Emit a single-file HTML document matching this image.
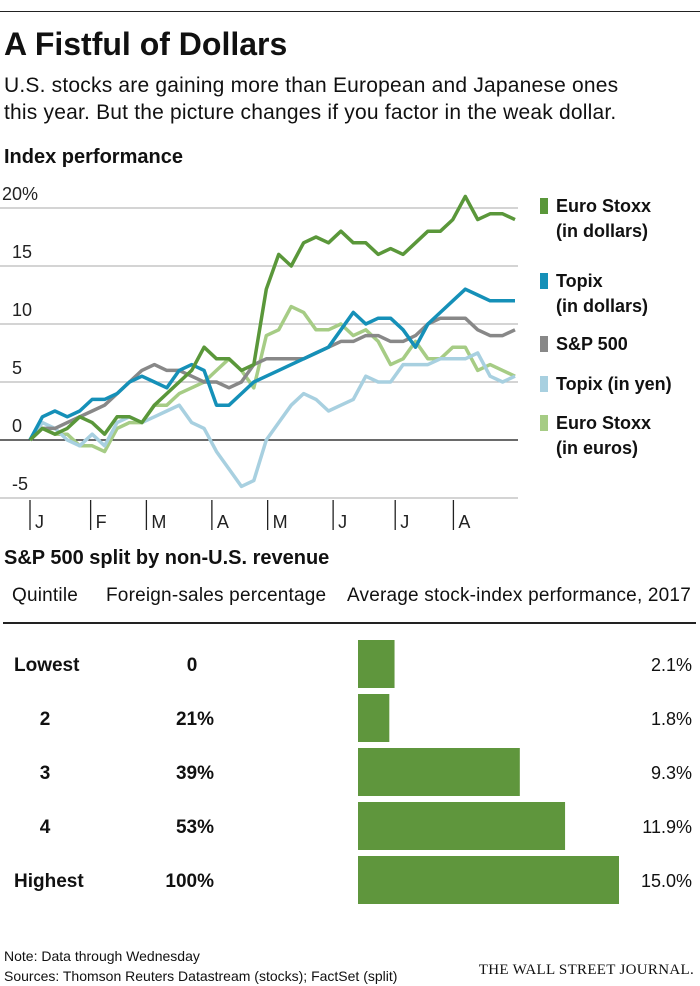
<!DOCTYPE html>
<html><head><meta charset="utf-8">
<style>
body{margin:0;background:#fff;}
#root{position:relative;width:700px;height:986px;overflow:hidden;font-family:"Liberation Sans Narrow","Liberation Sans",sans-serif;color:#111;}
.t{position:absolute;white-space:nowrap;}
</style></head><body>
<div id="root">
<div style="position:absolute;left:0;top:11px;width:700px;height:1px;background:#222"></div>
<div class="t" style="left:4px;top:26px;font-size:32px;font-weight:bold;font-family:'Liberation Sans',sans-serif;letter-spacing:0px">A Fistful of Dollars</div>
<div class="t" style="left:4px;top:72px;font-size:21px;line-height:27px;letter-spacing:0.2px">U.S. stocks are gaining more than European and Japanese ones<br>this year. But the picture changes if you factor in the weak dollar.</div>
<div class="t" style="left:4px;top:146px;font-size:20px;font-weight:bold">Index performance</div>
<svg id="lc" width="700" height="540" style="position:absolute;left:0;top:0"></svg>
<div class="t" style="left:4px;top:547px;font-size:20px;font-weight:bold">S&amp;P 500 split by non-U.S. revenue</div>
<div class="t" style="left:12px;top:585px;font-size:19px;letter-spacing:0.2px">Quintile</div>
<div class="t" style="left:106px;top:585px;font-size:19px;letter-spacing:0.2px">Foreign-sales percentage</div>
<div class="t" style="left:347px;top:585px;font-size:19px;letter-spacing:0.2px">Average stock-index performance, 2017</div>
<div style="position:absolute;left:3px;top:622px;width:693px;height:2px;background:#222"></div>
<svg id="bc" width="700" height="330" style="position:absolute;left:0;top:620px"></svg>
<div class="t" style="left:4px;top:948px;font-size:14px">Note: Data through Wednesday</div>
<div class="t" style="left:4px;top:968px;font-size:14px">Sources: Thomson Reuters Datastream (stocks); FactSet (split)</div>
<div class="t" style="right:6px;top:962px;font-size:15px;font-family:'Liberation Serif',serif;letter-spacing:0.3px">THE WALL STREET JOURNAL.</div>
</div>
<script>
const yTicks=[20,15,10,5,0,-5];
const yTickLabels=["20%","15","10","5","0","-5"];
const months=["J","F","M","A","M","J","J","A"];
const monthPos=[0,0.125,0.24,0.375,0.49,0.625,0.753,0.873];
const seriesNames=["Euro Stoxx (in euros)","Topix (in yen)","S&P 500","Topix (in dollars)","Euro Stoxx (in dollars)"];
const seriesColors=["#a6cc85","#a8d0e0","#888888","#1590b8","#5a973a"];
const euroEur=[0,1,0.5,0.5,-0.5,-0.5,-1,1,1.5,1.5,3,3,4,4.5,5,6,7,6,4.5,9,9.5,11.5,11,9.5,9.5,10,9,9.5,8.5,6.5,7,8.5,7,7,8,8,6,6.5,6,5.5];
const topixYen=[0,1.5,1,0,-0.5,0.5,-0.5,1.5,2,1.5,2,2.5,3,1.5,1,-1,-2.5,-4,-3.5,0,1.5,3,4,3.5,2.5,3,3.5,5.5,5,5,6.5,6.5,6.5,7,7,7,7.5,5.5,5,5.5];
const sp500=[0,1,1,1.5,2,2.5,3,4,5,6,6.5,6,6,5.5,5,5,4.5,5,6.5,7,7,7,7,7.5,8,8.5,8.5,9,9,8.5,8.5,9,10,10.5,10.5,10.5,9.5,9,9,9.5];
const topixUsd=[0,2,2.5,2,2.5,3.5,3.5,4,5,5.5,5,4.5,6,6.5,6,3,3,4,5,5.5,6,6.5,7,7.5,8,9.5,11,10,10.5,10.5,9.5,8,10,11,12,13,12.5,12,12,12];
const euroUsd=[0,1,0.5,1,2,1.5,0.5,2,2,1.5,3,4,5,6,8,7,7,6,6.5,13,16,15,17,17.5,17,18,17,17,16,16.5,16,17,18,18,19,21,19,19.5,19.5,19];
const allSeries=[euroEur,topixYen,sp500,topixUsd,euroUsd];

const NS="http://www.w3.org/2000/svg";
const lc=document.getElementById('lc');
const X0=30,X1=515,Y0=440,PU=11.6;
const FF='Liberation Sans Narrow, Liberation Sans, sans-serif';
const y=v=>Y0-v*PU;
const xi=(i,n)=>X0+(X1-X0)*i/(n-1);
function mk(tag,attrs,parent){const e=document.createElementNS(NS,tag);for(const k in attrs)e.setAttribute(k,attrs[k]);parent.appendChild(e);return e;}
yTicks.forEach((t,i)=>{
  const g=mk('line',{x1:0,x2:X1+3,y1:y(t),y2:y(t),stroke:t===0?'#111':'#bbb','stroke-width':t===0?1.3:1.2},lc);
  
  
  const tx=mk('text',{x:t===20?2:12,y:y(t)-8,'font-size':18,fill:'#222','font-family':FF},lc);
  tx.textContent=yTickLabels[i];
  
  
});
months.forEach((m,i)=>{
  const xx=X0+(X1-X0)*monthPos[i];
  const l=mk('line',{x1:xx,x2:xx,y1:500,y2:530,stroke:'#222','stroke-width':1.3},lc);
  
  
  const tx=mk('text',{x:xx+5,y:528,'font-size':18,fill:'#222','font-family':FF},lc);
  tx.textContent=m;
  
  
});
allSeries.forEach((s,k)=>{
  const pts=s.map((v,i)=>xi(i,s.length).toFixed(1)+','+y(v).toFixed(1)).join(' ');
  const p=mk('polyline',{points:pts,fill:'none',stroke:seriesColors[k],'stroke-width':3.5,'stroke-linejoin':'round'},lc);
  
  
});
const legendRows=[[4,["Euro Stoxx","(in dollars)"],207],[3,["Topix","(in dollars)"],282],[2,["S&P 500"],345],[1,["Topix (in yen)"],385],[0,["Euro Stoxx","(in euros)"],424]];
legendRows.forEach(r=>{
  const sw=mk('rect',{x:540,y:r[2]-9,width:8,height:16,fill:seriesColors[r[0]]},lc);
  
  
  r[1].forEach((line,j)=>{
    const tx=mk('text',{x:556,y:r[2]+5+j*25,'font-size':18,'font-weight':'bold',fill:'#111','font-family':FF},lc);
    tx.textContent=line;
    
    
  });
});

const quintiles=["Lowest","2","3","4","Highest"];
const foreignSales=["0","21%","39%","53%","100%"];
const performance=[2.1,1.8,9.3,11.9,15.0];
const bc=document.getElementById('bc');
const BX=358,BU=17.4;
quintiles.forEach((q,i)=>{
  const top=20+i*54, cy=top+24;
  const edge=(i===0||i===4);
  const t1=mk('text',{x:edge?14:45,y:cy+7,'font-size':19,'font-weight':'bold',fill:'#111','text-anchor':edge?'start':'middle','font-family':FF},bc);
  t1.textContent=q;
  
  
  const t2=mk('text',{x:i===0?192:214,y:cy+7,'font-size':19,'font-weight':'bold',fill:'#111','text-anchor':i===0?'middle':'end','font-family':FF},bc);
  t2.textContent=foreignSales[i];
  
  
  const b=mk('rect',{x:BX,y:top,width:performance[i]*BU,height:48,fill:'#5f963d'},bc);
  
  
  const t3=mk('text',{x:692,y:cy+7,'font-size':18,fill:'#111','text-anchor':'end','font-family':FF},bc);
  t3.textContent=performance[i].toFixed(1)+'%';
  
  
});
</script>
</body></html>
